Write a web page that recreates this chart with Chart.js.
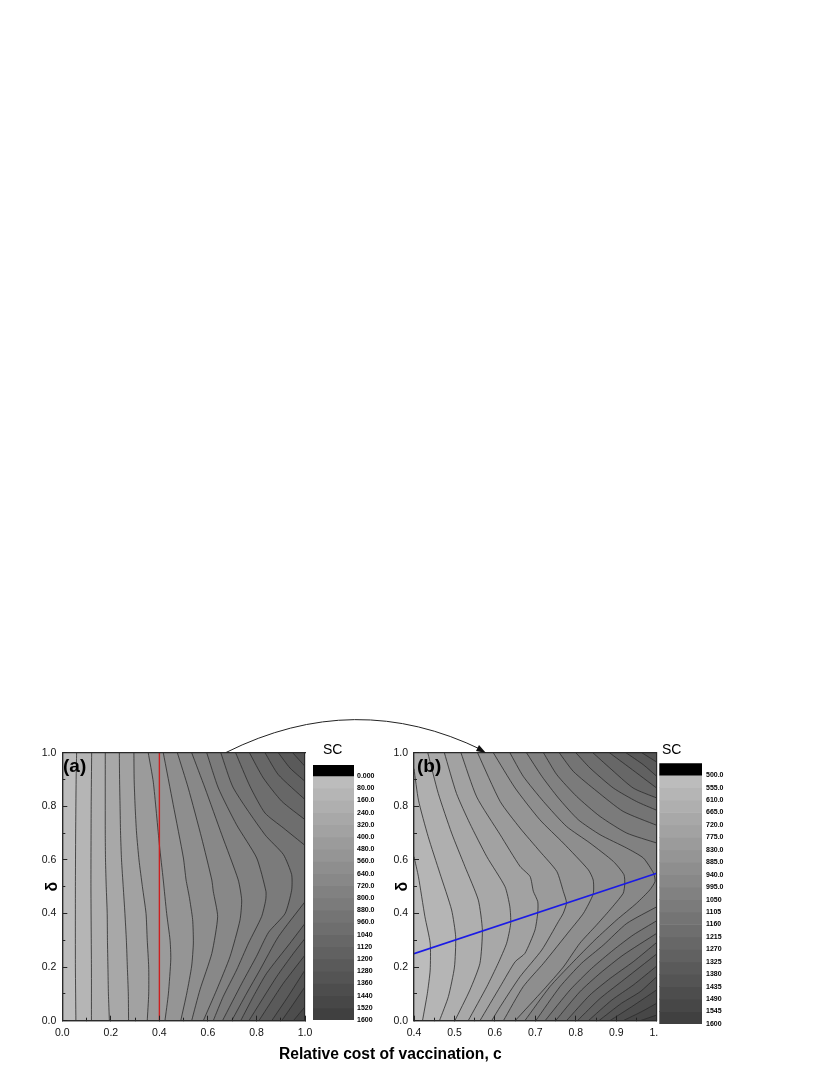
<!DOCTYPE html>
<html>
<head>
<meta charset="utf-8">
<script src="https://cdn.jsdelivr.net/npm/chart.js@4"></script>
<style>
html,body{margin:0;padding:0;background:#fff;width:830px;height:1075px;overflow:hidden}
canvas{position:absolute;display:block}
.t{position:absolute;font-family:"Liberation Sans",Arial,sans-serif;color:#000;white-space:nowrap;line-height:1;z-index:5}
svg{position:absolute;left:0;top:0;z-index:4}
</style>
</head>
<body>
<canvas id="panelA" style="left:41px;top:733px" width="283" height="307"></canvas>
<canvas id="panelB" style="left:391px;top:733px" width="285" height="307"></canvas>
<canvas id="barA" style="left:310px;top:755px;z-index:2" width="70" height="280"></canvas>
<canvas id="barB" style="left:658px;top:755px;z-index:2;background:#fff" width="70" height="290"></canvas>
<svg width="830" height="1075">
  <path d="M226 752.5 Q355 688 482 750" fill="none" stroke="#222" stroke-width="1"/>
  <polygon points="486,753 476,751 479,745" fill="#111"/>
</svg>
<div class="t" style="left:63px;top:756px;font-size:19px;font-weight:bold">(a)</div>
<div class="t" style="left:417px;top:756px;font-size:19px;font-weight:bold">(b)</div>
<div class="t" style="left:323px;top:742px;font-size:14px">SC</div>
<div class="t" style="left:662px;top:742px;font-size:14px">SC</div>
<div class="t" style="left:279px;top:1046px;font-size:15.6px;font-weight:bold">Relative cost of vaccination, c</div>
<script>
const FONT = '"Liberation Sans", Arial, sans-serif';

const bandColors = ['#bcbcbc','#b5b5b5','#afafaf','#a8a8a8','#a2a2a2','#9b9b9b','#959595','#8e8e8e','#888888','#818181',
                    '#7b7b7b','#747474','#6e6e6e','#676767','#616161','#5a5a5a','#545454','#4d4d4d','#474747','#404040'];

const levelsA = [0,80,160,240,320,400,480,560,640,720,800,880,960,1040,1120,1200,1280,1360,1440,1520,1600];
const labelsA = ['0.000','80.00','160.0','240.0','320.0','400.0','480.0','560.0','640.0','720.0','800.0','880.0','960.0','1040','1120','1200','1280','1360','1440','1520','1600'];
const levelsB = [500,555,610,665,720,775,830,885,940,995,1050,1105,1160,1215,1270,1325,1380,1435,1490,1545,1600];
const labelsB = ['500.0','555.0','610.0','665.0','720.0','775.0','830.0','885.0','940.0','995.0','1050','1105','1160','1215','1270','1325','1380','1435','1490','1545','1600'];

/* panel (a) contours, each from the lower end to the upper end: [c, delta] */
const aL1 = [[.056,0],[.054,.2],[.054,.5],[.055,.7],[.057,.9],[.059,1]];
const aL2 = [[.12,0],[.12,.2],[.118,.5],[.119,.8],[.121,1]];
const aL3 = [[.194,0],[.19,.1],[.188,.2],[.186,.3],[.185,.4],[.181,.5],[.178,.6],[.177,.7],[.177,1]];
const aL4 = [[.273,0],[.272,.1],[.268,.2],[.264,.3],[.258,.4],[.251,.5],[.244,.6],[.24,.7],[.238,.8],[.236,.9],[.235,1]];
const aL5 = [[.35,0],[.356,.1],[.356,.2],[.35,.3],[.345,.4],[.33,.5],[.316,.6],[.306,.7],[.3,.8],[.296,.9],[.295,1]];
const aL6 = [[.423,0],[.437,.1],[.447,.23],[.444,.3],[.43,.4],[.416,.525],[.4,.657],[.375,.89],[.354,1]];
const aL7 = [[.488,0],[.513,.103],[.533,.204],[.54,.29],[.537,.377],[.523,.463],[.51,.525],[.499,.607],[.457,.806],[.416,1]];
const aL8 = [[.533,0],[.567,.115],[.616,.251],[.64,.388],[.622,.483],[.616,.525],[.574,.682],[.519,.868],[.474,1]];
const aL9 = [[.581,0],[.636,.115],[.691,.239],[.732,.375],[.739,.45],[.725,.525],[.657,.694],[.588,.868],[.533,1]];
const aL10 = [[.622,0],[.663,.09],[.718,.189],[.767,.289],[.821,.388],[.838,.45],[.839,.483],[.801,.607],[.718,.731],[.643,.868],[.595,1]];
const aL11 = [[.66,0],[.74,.14],[.8,.24],[.85,.33],[.918,.4],[.945,.487],[.945,.545],[.911,.62],[.835,.694],[.705,.868],[.653,1]];
const aL12 = [[.698,0],[.76,.103],[.814,.189],[.89,.313],[1,.444]];
const aL13 = [[.735,0],[.787,.09],[.842,.177],[.938,.289],[1,.363]];
const aL14 = [[.769,0],[.883,.164],[.952,.251],[1,.307]];
const aL15 = [[.81,0],[.86,.07],[.911,.14],[1,.245]];
const aL16 = [[.863,0],[.93,.09],[1,.189]];
const aL17 = [[.904,0],[.95,.06],[1,.127]];
const aL18 = [[.952,0],[1,.052]];
const aT1 = [[.714,1],[.773,.875],[.835,.775],[.911,.719],[1,.654]];
const aT2 = [[.771,1],[.828,.906],[.904,.819],[1,.75]];
const aT3 = [[.835,1],[.89,.918],[1,.825]];
const aT4 = [[.89,1],[.938,.943],[1,.893]];
const aT5 = [[.949,1],[1,.949]];
const aRed = [[.4,0],[.4,1]];

/* panel (b) contours */
const bL1 = [[.421,0],[.433,.102],[.44,.189],[.44,.289],[.427,.388],[.411,.537],[.4,.612]];
const bL2 = [[.463,0],[.485,.09],[.5,.2],[.503,.313],[.493,.413],[.464,.55],[.435,.687],[.411,.823],[.4,.94]];
const bL3 = [[.501,0],[.538,.114],[.563,.214],[.569,.338],[.559,.45],[.526,.575],[.493,.7],[.46,.848],[.434,1]];
const bL4 = [[.534,0],[.58,.127],[.608,.214],[.629,.289],[.639,.363],[.637,.425],[.625,.5],[.58,.612],[.538,.736],[.505,.848],[.475,1]];
const bL5 = [[.563,0],[.613,.127],[.65,.22],[.674,.251],[.699,.338],[.706,.404],[.706,.444],[.695,.483],[.687,.538],[.662,.576],[.613,.694],[.555,.835],[.516,1]];
const bL6 = [[.592,0],[.613,.052],[.662,.164],[.716,.264],[.757,.37],[.769,.401],[.777,.44],[.769,.483],[.753,.557],[.711,.632],[.662,.719],[.613,.818],[.557,1]];
const bL7 = [[.621,0],[.67,.127],[.72,.214],[.786,.338],[.819,.401],[.843,.473],[.843,.525],[.831,.563],[.769,.663],[.711,.75],[.65,.868],[.596,1]];
const bL8 = [[.65,0],[.72,.115],[.769,.2],[.81,.289],[.85,.355],[.884,.413],[.917,.475],[.921,.51],[.919,.545],[.893,.594],[.835,.663],[.777,.725],[.72,.818],[.67,.912],[.637,1]];
const bL9 = [[.674,0],[.736,.127],[.79,.214],[.847,.301],[.901,.376],[.95,.438],[.983,.488],[.996,.52],[.992,.551],[.967,.607],[.926,.644],[.86,.694],[.806,.75],[.757,.831],[.716,.912],[.678,1]];
const bL10 = [[.701,0],[.761,.127],[.814,.214],[.868,.282],[.926,.363],[1,.425]];
const bL11 = [[.724,0],[.786,.115],[.839,.195],[.893,.264],[.942,.32],[1,.373]];
const bL12 = [[.75,0],[.81,.108],[.86,.177],[.917,.245],[1,.326]];
const bL13 = [[.777,0],[.835,.096],[.885,.158],[.942,.22],[1,.292]];
const bL14 = [[.804,0],[.86,.083],[.913,.146],[1,.249]];
const bL15 = [[.831,0],[.889,.077],[.942,.133],[1,.204]];
const bL16 = [[.857,0],[.913,.065],[.959,.108],[1,.164]];
const bL17 = [[.884,0],[.938,.052],[1,.115]];
const bL18 = [[.917,0],[.963,.034],[1,.065]];
const bL19 = [[.959,0],[1,.021]];
const bT1 = [[.72,1],[.753,.918],[.802,.837],[.86,.762],[.926,.7],[1,.663]];
const bT2 = [[.759,1],[.794,.93],[.852,.856],[.917,.781],[1,.729]];
const bT3 = [[.8,1],[.835,.943],[.893,.868],[.95,.818],[1,.785]];
const bT4 = [[.842,1],[.884,.943],[.942,.868],[1,.831]];
const bT5 = [[.883,1],[.934,.943],[1,.868]];
const bT6 = [[.924,1],[.967,.955],[1,.912]];
const bT7 = [[.963,1],[1,.965]];
const bBlue = [[.4,.25],[1,.55]];

const pts = a => a.map(p => ({x:p[0], y:p[1]}));

function fixedH(h){ return s => { s.height = h; }; }
function fixedW(w){ return s => { s.width = w; }; }

function panel(id, cfg){
  const {lines, tops, topStart, xMin, xMax, major, minor, overlay, overlayColor, overlayWidth, leftW, padRight} = cfg;
  const ds = [];
  ds.push({data:pts(overlay), showLine:true, borderColor:overlayColor, borderWidth:overlayWidth, pointRadius:0, fill:false});
  lines.concat(tops).forEach(l => ds.push({data:pts(l), showLine:true, borderColor:'#2b2b2b', borderWidth:0.8, tension:0.2, pointRadius:0, fill:false}));
  lines.forEach((l,k) => {
    let poly = l.slice();
    const t = (k >= topStart && k-topStart < tops.length) ? tops[k-topStart] : null;
    if (t) poly = poly.concat(t.slice().reverse());
    else if (l[l.length-1][0] === xMax) poly.push([xMax,1]);
    if (l[l.length-1][0] !== xMin) poly.push([xMin,1]);
    poly.push([xMin,0]);
    ds.push({data:pts(poly), showLine:true, borderWidth:0, borderColor:'transparent', backgroundColor:bandColors[k], fill:'shape', pointRadius:0});
  });
  ds.push({data:pts([[xMin,0],[xMax,0],[xMax,1],[xMin,1]]), showLine:true, borderWidth:0, borderColor:'transparent', backgroundColor:bandColors[lines.length], fill:'shape', pointRadius:0});

  const tickFont = {family:FONT, size:10.5};
  const frame = {display:true, color:'#2a2a2a', width:1.2, z:2};
  new Chart(document.getElementById(id), {
    type:'scatter',
    data:{datasets:ds},
    options:{
      responsive:false, animation:false, events:[],
      layout:{padding:{left:0,right:padRight,top:19.7,bottom:0}},
      plugins:{legend:{display:false},tooltip:{enabled:false},title:{display:false}},
      scales:{
        x:{type:'linear',position:'bottom',min:xMin,max:xMax,afterFit:fixedH(19.3),
           ticks:{stepSize:major,font:tickFont,color:'#111',padding:11,maxRotation:0,autoSkip:false,callback:v=>v.toFixed(1)},
           grid:{drawOnChartArea:false,tickLength:-5,tickColor:'#222',tickWidth:1,z:2},border:frame},
        xMinor:{type:'linear',position:'bottom',weight:-1,min:xMin,max:xMax,afterFit:fixedH(0),
           ticks:{stepSize:minor,display:false,autoSkip:false},
           grid:{drawOnChartArea:false,tickLength:-3,tickColor:'#222',tickWidth:1,z:2},border:frame},
        xTop:{type:'linear',position:'top',min:xMin,max:xMax,afterFit:fixedH(0),
           ticks:{display:false},grid:{display:false,drawTicks:false},border:frame},
        y:{type:'linear',position:'left',min:0,max:1,afterFit:fixedW(leftW),
           title:{display:true,text:'δ',font:{family:FONT,size:16,weight:'bold'},color:'#000',padding:{top:2,bottom:0}},
           ticks:{stepSize:.2,font:tickFont,color:'#111',padding:11,autoSkip:false,callback:v=>v.toFixed(1)},
           grid:{drawOnChartArea:false,tickLength:-5,tickColor:'#222',tickWidth:1,z:2},border:frame},
        yMinor:{type:'linear',position:'left',weight:-1,min:0,max:1,afterFit:fixedW(0),
           ticks:{stepSize:.1,display:false,autoSkip:false},
           grid:{drawOnChartArea:false,tickLength:-3,tickColor:'#222',tickWidth:1,z:2},border:frame},
        yRight:{type:'linear',position:'right',min:0,max:1,afterFit:fixedW(0),
           ticks:{display:false},grid:{display:false,drawTicks:false},border:frame}
      }
    }
  });
}

panel('panelA',{
  lines:[aL1,aL2,aL3,aL4,aL5,aL6,aL7,aL8,aL9,aL10,aL11,aL12,aL13,aL14,aL15,aL16,aL17,aL18],
  tops:[aT1,aT2,aT3,aT4,aT5], topStart:11, xMin:0, xMax:1, major:.2, minor:.1,
  overlay:aRed, overlayColor:'#cc2020', overlayWidth:1.4, leftW:21.3, padRight:19
});
panel('panelB',{
  lines:[bL1,bL2,bL3,bL4,bL5,bL6,bL7,bL8,bL9,bL10,bL11,bL12,bL13,bL14,bL15,bL16,bL17,bL18,bL19],
  tops:[bT1,bT2,bT3,bT4,bT5,bT6,bT7], topStart:9, xMin:.4, xMax:1, major:.1, minor:.05,
  overlay:bBlue, overlayColor:'#1a1ae6', overlayWidth:1.6, leftW:23, padRight:19.3
});

function colorbar(id, levels, labels, blackLow, padLeft, padTop, padBottom, tickPad){
  const ds = [{label:'top',data:[[blackLow,levels[0]]],backgroundColor:'#000',grouped:false,barPercentage:1,categoryPercentage:1}];
  for (let i=0;i<levels.length-1;i++)
    ds.push({label:labels[i],data:[[levels[i],levels[i+1]]],backgroundColor:bandColors[i],grouped:false,barPercentage:1,categoryPercentage:1});
  new Chart(document.getElementById(id),{
    type:'bar',
    data:{labels:['SC'],datasets:ds},
    options:{
      responsive:false,animation:false,events:[],
      layout:{padding:{left:padLeft,right:0,top:padTop,bottom:padBottom}},
      plugins:{legend:{display:false},tooltip:{enabled:false}},
      scales:{
        x:{display:false},
        y:{position:'right',reverse:true,min:blackLow,max:levels[levels.length-1],afterFit:fixedW(26),
           afterBuildTicks:s=>{s.ticks=levels.map(v=>({value:v}));},
           ticks:{autoSkip:false,padding:tickPad,font:{family:FONT,size:7,weight:'bold'},color:'#000',
                  callback:(v,i)=>labels[i]},
           grid:{display:false,drawTicks:false},border:{display:false}}
      }
    }
  });
}
colorbar('barA',levelsA,labelsA,-72,3,10,15,3);
colorbar('barB',levelsB,labelsB,447,1.3,8,21,4);
</script>
</body>
</html>
